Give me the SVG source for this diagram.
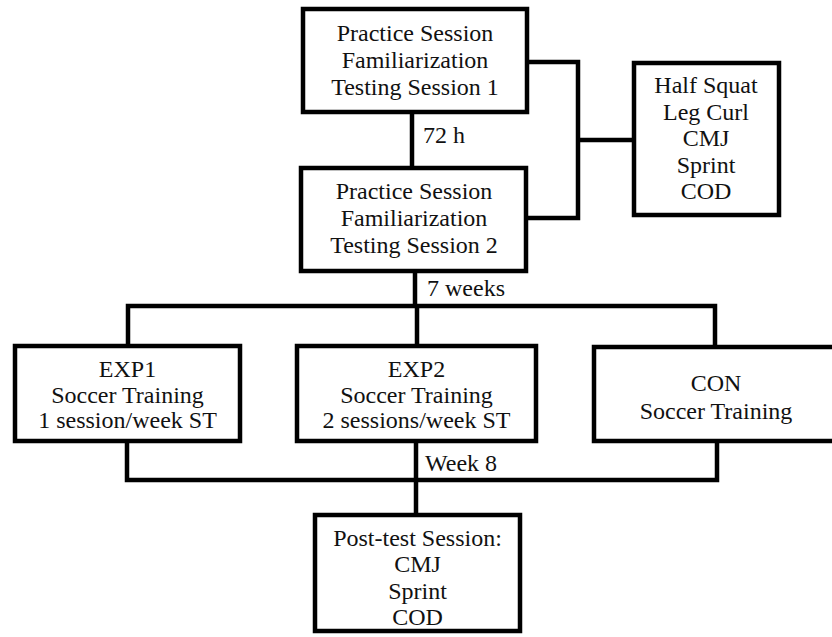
<svg xmlns="http://www.w3.org/2000/svg" width="832" height="637" viewBox="0 0 832 637">
<style>
.box{fill:#fff;stroke:#000;stroke-width:4.5}
.ln{fill:none;stroke:#000;stroke-width:4.5;stroke-linecap:square}
text{font-family:"Liberation Serif","Times New Roman",serif;font-size:24px;fill:#111}
.c{text-anchor:middle}
</style>
<rect width="832" height="637" fill="#fff"/>
<g id="connectors">
<path class="ln" d="M529 62H578V218H528M578 140H632"/>
<path class="ln" d="M412 114V166"/>
<path class="ln" d="M415 273V306M128 306H715M128 306V344M417 306V344M715 306V345"/>
<path class="ln" d="M127 443V480H717V443M416 443V513"/>
<text x="423" y="143">72 h</text>
<text x="427" y="296">7 weeks</text>
<text x="425" y="471">Week 8</text>
</g>
<g id="testing1">
<rect class="box" x="303" y="9" width="224" height="103"/>
<text class="c" x="415" y="41">Practice Session</text>
<text class="c" x="415" y="68">Familiarization</text>
<text class="c" x="415" y="95">Testing Session 1</text>
</g>
<g id="testing2">
<rect class="box" x="301" y="168" width="225" height="103"/>
<text class="c" x="414" y="199">Practice Session</text>
<text class="c" x="414" y="226">Familiarization</text>
<text class="c" x="414" y="253">Testing Session 2</text>
</g>
<g id="tests">
<rect class="box" x="634" y="63" width="145" height="152"/>
<text class="c" x="706" y="93">Half Squat</text>
<text class="c" x="706" y="120">Leg Curl</text>
<text class="c" x="706" y="146">CMJ</text>
<text class="c" x="706" y="173">Sprint</text>
<text class="c" x="706" y="199">COD</text>
</g>
<g id="exp1">
<rect class="box" x="15" y="346" width="225" height="95"/>
<text class="c" x="127.5" y="377">EXP1</text>
<text class="c" x="127.5" y="403">Soccer Training</text>
<text class="c" x="127.5" y="428">1 session/week ST</text>
</g>
<g id="exp2">
<rect class="box" x="297" y="346" width="239" height="95"/>
<text class="c" x="416.5" y="377">EXP2</text>
<text class="c" x="416.5" y="403">Soccer Training</text>
<text class="c" x="416.5" y="428">2 sessions/week ST</text>
</g>
<g id="con">
<rect class="box" x="594" y="347" width="250" height="94"/>
<text class="c" x="716" y="391">CON</text>
<text class="c" x="716" y="419">Soccer Training</text>
</g>
<g id="posttest">
<rect class="box" x="315" y="515" width="205" height="116"/>
<text class="c" x="417.5" y="546">Post-test Session:</text>
<text class="c" x="417.5" y="572">CMJ</text>
<text class="c" x="417.5" y="599">Sprint</text>
<text class="c" x="417.5" y="625">COD</text>
</g>
</svg>
